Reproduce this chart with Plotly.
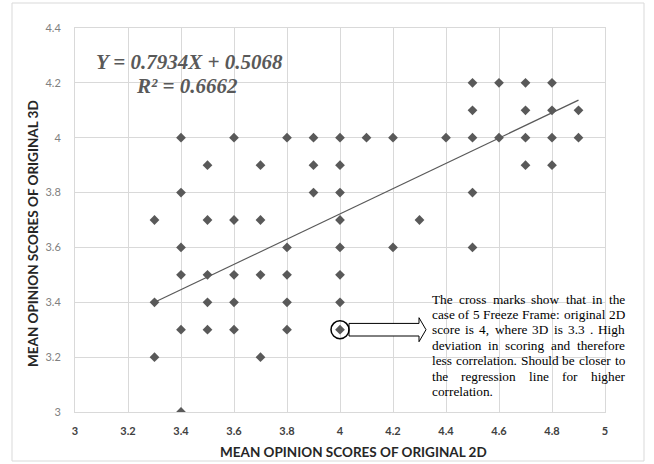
import plotly.graph_objects as go

# ---------------- data ----------------
x_2d = [4.5, 4.6, 4.7, 4.8,
        4.5, 4.7, 4.8, 4.9,
        3.4, 3.6, 3.8, 3.9, 4.0, 4.1, 4.2, 4.4, 4.5, 4.6, 4.7, 4.8, 4.9,
        3.5, 3.7, 3.9, 4.0, 4.7, 4.8,
        3.4, 3.9, 4.0, 4.5,
        3.3, 3.5, 3.6, 3.7, 4.0, 4.3,
        3.4, 3.8, 4.0, 4.2, 4.5,
        3.4, 3.5, 3.6, 3.7, 3.8, 4.0,
        3.3, 3.5, 3.6, 3.8, 4.0,
        3.4, 3.5, 3.6, 3.8, 4.0,
        3.3, 3.7,
        3.4]
y_3d = [4.2, 4.2, 4.2, 4.2,
        4.1, 4.1, 4.1, 4.1,
        4.0, 4.0, 4.0, 4.0, 4.0, 4.0, 4.0, 4.0, 4.0, 4.0, 4.0, 4.0, 4.0,
        3.9, 3.9, 3.9, 3.9, 3.9, 3.9,
        3.8, 3.8, 3.8, 3.8,
        3.7, 3.7, 3.7, 3.7, 3.7, 3.7,
        3.6, 3.6, 3.6, 3.6, 3.6,
        3.5, 3.5, 3.5, 3.5, 3.5, 3.5,
        3.4, 3.4, 3.4, 3.4, 3.4,
        3.3, 3.3, 3.3, 3.3, 3.3,
        3.2, 3.2,
        3.0]

# trend line as drawn in the picture
trend_x = [3.3, 4.9]
trend_y = [3.4, 4.137]

# highlighted point (5 Freeze Frame)
highlight_x = 4.0
highlight_y = 3.3

x_tickvals = [3, 3.2, 3.4, 3.6, 3.8, 4, 4.2, 4.4, 4.6, 4.8, 5]
x_ticktext = ["3", "3.2", "3.4", "3.6", "3.8", "4", "4.2", "4.4", "4.6", "4.8", "5"]
y_tickvals = [3, 3.2, 3.4, 3.6, 3.8, 4, 4.2, 4.4]
y_ticktext = ["3", "3.2", "3.4", "3.6", "3.8", "4", "4.2", "4.4"]

equation_text = "Y = 0.7934X + 0.5068"
r2_text = "R² = 0.6662"
x_title = "MEAN OPINION SCORES OF ORIGINAL 2D"
y_title = "MEAN OPINION SCORES OF ORIGINAL 3D"
note_lines = [
    "The cross marks show that in the",
    "case of 5 Freeze Frame: original 2D",
    "score is 4, where 3D is 3.3 . High",
    "deviation in scoring and therefore",
    "less correlation. Should be closer to",
    "the regression line for higher",
    "correlation.",
]

# ---------------- layout geometry (pixels) ----------------
W, H = 654, 464
PL, PR, PT, PB = 75, 605, 28, 412
GRID = "#d9d9d9"
MARK = "#595959"

fig = go.Figure()

fig.add_trace(go.Scatter(
    x=trend_x, y=trend_y, mode="lines",
    line=dict(color=MARK, width=1.2), hoverinfo="skip"))

fig.add_trace(go.Scatter(
    x=x_2d, y=y_3d, mode="markers",
    marker=dict(symbol="diamond", size=7.5, color=MARK, line=dict(width=0))))

def px_x(p):
    return (p - PL) / (PR - PL)

def px_y(p):
    return (PB - p) / (PB - PT)

annotations = []

# regression equation
annotations.append(dict(
    x=px_x(94), y=px_y(62), xref="paper", yref="paper",
    xanchor="left", yanchor="middle", showarrow=False,
    text="<b><i>" + equation_text + "</i></b>",
    font=dict(family="Liberation Serif", size=21, color=MARK)))
annotations.append(dict(
    x=px_x(187), y=px_y(86), xref="paper", yref="paper",
    xanchor="center", yanchor="middle", showarrow=False,
    text="<b><i>" + r2_text + "</i></b>",
    font=dict(family="Liberation Serif", size=21, color=MARK)))

# axis titles
annotations.append(dict(
    x=px_x(353), y=px_y(452), xref="paper", yref="paper",
    xanchor="center", yanchor="middle", showarrow=False,
    text="<b>" + x_title + "</b>",
    font=dict(family="Lato", size=13.5, color="#262626")))
annotations.append(dict(
    x=px_x(33), y=px_y(234), xref="paper", yref="paper",
    xanchor="center", yanchor="middle", showarrow=False, textangle=-90,
    text="<b>" + y_title + "</b>",
    font=dict(family="Lato", size=13.5, color="#262626")))

# justified note text (Times metrics)
TW = {' ': 250, ',': 250, '.': 250, ':': 278, '0': 500, '1': 500, '2': 500, '3': 500,
      '4': 500, '5': 500, 'A': 722, 'D': 722, 'F': 556, 'H': 722, 'S': 556, 'T': 611,
      'a': 444, 'b': 500, 'c': 444, 'd': 500, 'e': 444, 'f': 333, 'g': 500, 'h': 500,
      'i': 278, 'k': 500, 'l': 278, 'm': 778, 'n': 500, 'o': 500, 'p': 500, 'r': 333,
      's': 389, 't': 278, 'u': 500, 'v': 500, 'w': 722, 'x': 500, 'y': 500, 'z': 444}
FS = 13.3
NOTE_L, NOTE_R = 431, 624
NOTE_Y0, NOTE_DY = 299, 15.45

def ww(word):
    return sum(TW.get(c, 500) for c in word) / 1000.0 * FS

for i, line in enumerate(note_lines):
    yc = NOTE_Y0 + i * NOTE_DY
    words = line.split(" ")
    if i == len(note_lines) - 1 or len(words) == 1:
        positions = [NOTE_L]
        words = [line]
    else:
        total = sum(ww(w) for w in words)
        gap = (NOTE_R - NOTE_L - total) / (len(words) - 1)
        positions = []
        cur = NOTE_L
        for w in words:
            positions.append(cur)
            cur += ww(w) + gap
    for w, p in zip(words, positions):
        annotations.append(dict(
            x=px_x(p - 1), y=px_y(yc), xref="paper", yref="paper",
            xanchor="left", yanchor="middle", showarrow=False, text=w,
            font=dict(family="Liberation Serif", size=FS, color="#000000")))

shapes = [
    # outer chart border
    dict(type="rect", xref="paper", yref="paper",
         x0=px_x(12), x1=px_x(644), y0=px_y(461), y1=px_y(3),
         line=dict(color=GRID, width=1), fillcolor="rgba(0,0,0,0)", layer="below"),
    # block arrow from the circled point to the note
    dict(type="path", xref="x", yref="y", xsizemode="pixel", ysizemode="pixel",
         xanchor=highlight_x, yanchor=highlight_y,
         path="M 9,6.3 L 79,6.3 L 79,12 L 86,0 L 79,-12 L 79,-6.3 L 9,-6.3 Z",
         line=dict(color="#000000", width=1), fillcolor="#ffffff"),
    # circle around the point
    dict(type="circle", xref="x", yref="y", xsizemode="pixel", ysizemode="pixel",
         xanchor=highlight_x, yanchor=highlight_y,
         x0=-9, x1=9, y0=-9, y1=9,
         line=dict(color="#000000", width=1.5), fillcolor="rgba(0,0,0,0)"),
]

fig.update_layout(
    width=W, height=H,
    margin=dict(l=PL, r=W - PR, t=PT, b=H - PB, pad=0),
    paper_bgcolor="#ffffff", plot_bgcolor="#ffffff",
    showlegend=False,
    annotations=annotations,
    shapes=shapes,
    xaxis=dict(range=[3, 5], tickvals=x_tickvals, ticktext=x_ticktext,
               showgrid=True, gridcolor=GRID, gridwidth=1, zeroline=False,
               showline=True, linecolor=GRID, linewidth=1, mirror=True,
               ticks="", ticklabelstandoff=9,
               tickfont=dict(family="Lato", size=11, color="#404040", weight="bold")),
    yaxis=dict(range=[3, 4.4], tickvals=y_tickvals, ticktext=y_ticktext,
               showgrid=True, gridcolor=GRID, gridwidth=1, zeroline=False,
               showline=True, linecolor=GRID, linewidth=1, mirror=True,
               ticks="", ticklabelstandoff=11,
               tickfont=dict(family="Lato", size=11, color="#808080")),
)

fig.write_html(
    "out.html",
    config={"displayModeBar": False},
    post_script="document.body.style.margin='0';document.body.style.padding='0';",
)
